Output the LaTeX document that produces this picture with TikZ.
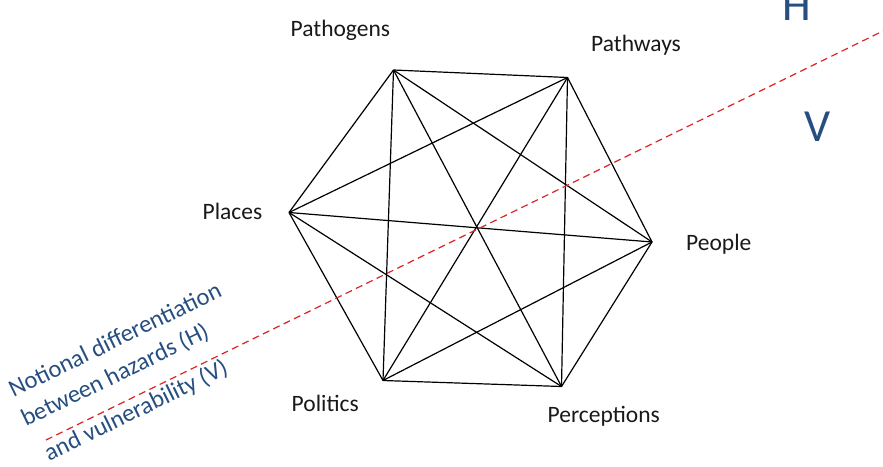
\documentclass[tikz,border=0pt]{standalone}
\usepackage{fontspec}
\setmainfont{Carlito}
\definecolor{hvblue}{RGB}{38,78,128}
\definecolor{hvred}{RGB}{220,35,35}
\begin{document}
\begin{tikzpicture}[x=1pt,y=-1pt,
  edge/.style={line width=1.2pt,black},
  lbl/.style={anchor=base west,inner sep=0pt,font=\fontsize{23.5}{28}\selectfont,text=black!90},
  note/.style={anchor=base west,inner sep=0pt,rotate=26,font=\fontsize{24.5}{29}\selectfont,text=hvblue},
  big/.style={anchor=base,inner sep=0pt,font=\fontsize{46}{50}\selectfont,text=hvblue},
  divider/.style={hvred,line width=1.2pt,dash pattern=on 7pt off 4.5pt}]
\useasboundingbox (0,0) rectangle (883,466);
% vertices
\coordinate (pg) at (393.5,70);
\coordinate (pw) at (567.5,77.5);
\coordinate (pl) at (289,212.5);
\coordinate (pe) at (652,242);
\coordinate (po) at (383,380.5);
\coordinate (pc) at (561.5,386.5);
% complete graph
\foreach \a/\b in {pg/pw,pg/pl,pg/pe,pg/po,pg/pc,pw/pl,pw/pe,pw/po,pw/pc,pl/pe,pl/po,pl/pc,pe/po,pe/pc,po/pc}
  \draw[edge,line join=round] (\a) -- (\b);
% dividing line
\coordinate (d1) at (46,440);
\coordinate (d2) at (883,31);
\draw[divider] (d1) -- (d2);
% labels
\node[lbl] (tpg) at (290.5,36.5) {Pathogens};
\node[lbl] (tpw) at (591,51.5) {Pathways};
\node[lbl] (tpl) at (202.5,219) {Places};
\node[lbl] (tpe) at (686,250) {People};
\node[lbl] (tpo) at (291.5,411.5) {Politics};
\node[lbl] (tpc) at (547.5,422.5) {Perceptions};
% H / V
\node[big] (hh) at (797,20) {H};
\node[big] (vv) at (818,141.5) {V};
% note
\node[note] (n1) at (13.5,398) {Notional differentiation};
\node[note] (n2) at (26,427) {between hazards (H)};
\node[note] (n3) at (49,461.5) {and vulnerability (V)};
\end{tikzpicture}
\end{document}
